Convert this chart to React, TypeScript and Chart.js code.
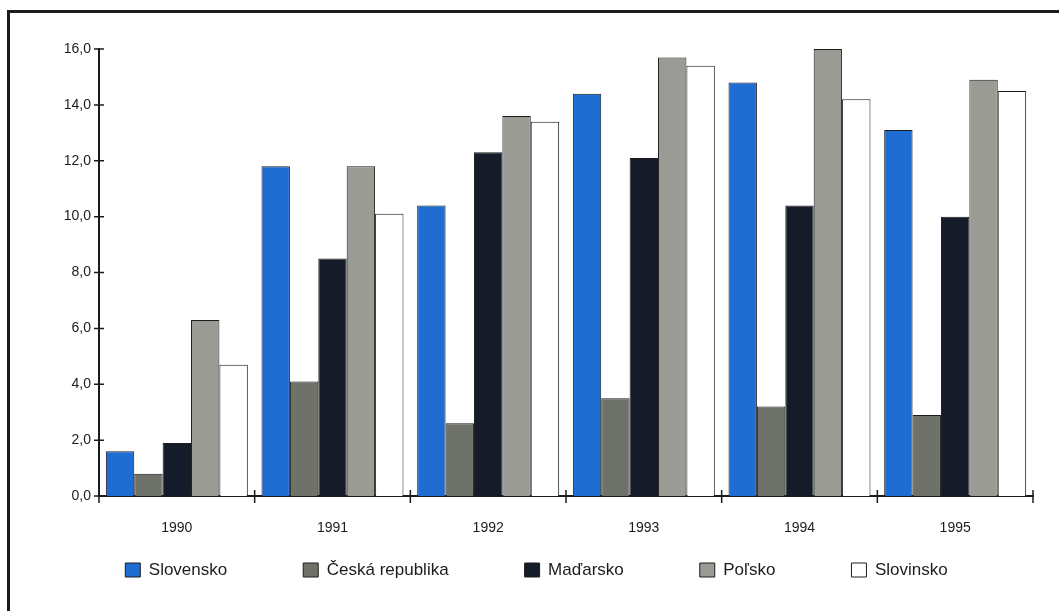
import { useEffect, useRef } from 'react';
import { Chart, registerables } from 'chart.js';

Chart.register(...registerables);

const years = ['1990', '1991', '1992', '1993', '1994', '1995'];
const seriesNames = ['Slovensko', 'Česká republika', 'Maďarsko', 'Poľsko', 'Slovinsko'];
const slovensko = [1.6, 11.8, 10.4, 14.4, 14.8, 13.1];
const ceska = [0.8, 4.1, 2.6, 3.5, 3.2, 2.9];
const madarsko = [1.9, 8.5, 12.3, 12.1, 10.4, 10.0];
const polsko = [6.3, 11.8, 13.6, 15.7, 16.0, 14.9];
const slovinsko = [4.7, 10.1, 13.4, 15.4, 14.2, 14.5];
const yTickLabels = ['0,0', '2,0', '4,0', '6,0', '8,0', '10,0', '12,0', '14,0', '16,0'];

const seriesValues = [slovensko, ceska, madarsko, polsko, slovinsko];
const seriesColors = ['#1f6dd2', '#6f7268', '#161b29', '#9b9b96', '#ffffff'];

const FONT = "'Liberation Sans', Arial, sans-serif";
const INK = '#1c1c1c';

const crossTicks = {
  id: 'crossTicks',
  afterDatasetsDraw(chart: any) {
    const { ctx, chartArea, scales } = chart;
    const x = scales.x;
    const y = scales.y;
    ctx.save();
    ctx.strokeStyle = INK;
    ctx.lineWidth = 1.5;
    ctx.beginPath();
    y.ticks.forEach((t: any) => {
      const py = y.getPixelForValue(t.value);
      ctx.moveTo(chartArea.left - 5, py);
      ctx.lineTo(chartArea.left + 5, py);
    });
    const n = x.ticks.length;
    const w = (x.right - x.left) / n;
    for (let i = 0; i <= n; i++) {
      const px = x.left + i * w;
      ctx.moveTo(px, chartArea.bottom - 6);
      ctx.lineTo(px, chartArea.bottom + 7);
    }
    ctx.stroke();
    ctx.restore();
  },
};

// Legend sits lower/further right in the reference than Chart.js stacks it;
// nudge the legend box and give the x-axis label band its room back.
const legendShift = {
  id: 'legendShift',
  afterLayout(chart: any) {
    const l = chart.legend;
    if (l) {
      l.top -= 22.5;
      l.bottom -= 22.5;
      l.left += 20;
      l.right += 20;
    }
    const x = chart.scales.x;
    if (x) x.bottom = x.top + 45;
  },
};

export default function App() {
  const ref = useRef<HTMLCanvasElement | null>(null);

  useEffect(() => {
    if (!ref.current) return;
    const chart = new Chart(ref.current, {
      type: 'bar',
      data: {
        labels: years,
        datasets: seriesNames.map((name, i) => ({
          label: name,
          data: seriesValues[i],
          backgroundColor: seriesColors[i],
          borderColor: INK,
          borderWidth: 1,
          categoryPercentage: 0.912,
          barPercentage: 1.0,
        })),
      },
      options: {
        responsive: false,
        animation: false,
        layout: { padding: { top: 49, right: 26, left: 0, bottom: 0 } },
        plugins: {
          tooltip: { enabled: false },
          title: { display: false },
          legend: {
            position: 'bottom',
            labels: {
              color: INK,
              font: { family: FONT, size: 17 },
              boxWidth: 15,
              boxHeight: 14,
              padding: 76,
            },
          },
        },
        scales: {
          x: {
            grid: { display: false, drawTicks: false },
            border: { display: true, color: INK, width: 2 },
            ticks: {
              color: INK,
              font: { family: FONT, size: 14 },
              padding: 24,
              maxRotation: 0,
            },
            afterFit(scale: any) {
              scale.height = 12;
            },
          },
          y: {
            min: 0,
            max: 16,
            grid: { display: false, drawTicks: false },
            border: { display: true, color: INK, width: 2 },
            ticks: {
              stepSize: 2,
              color: INK,
              font: { family: FONT, size: 14 },
              padding: 8,
              callback: (v: any) => yTickLabels[Math.round(Number(v) / 2)],
            },
            afterFit(scale: any) {
              scale.width = 99;
            },
          },
        },
      },
      plugins: [crossTicks, legendShift],
    });
    return () => chart.destroy();
  }, []);

  return (
    <div>
      <div
        style={{
          position: 'fixed',
          left: 7,
          top: 10,
          width: 1200,
          height: 800,
          borderLeft: '3px solid #1c1c1c',
          borderTop: '3px solid #1c1c1c',
          boxSizing: 'border-box',
        }}
      />
      <canvas
        ref={ref}
        width={1059}
        height={611}
        style={{ position: 'fixed', left: 0, top: 0, width: 1059, height: 611 }}
      />
    </div>
  );
}
